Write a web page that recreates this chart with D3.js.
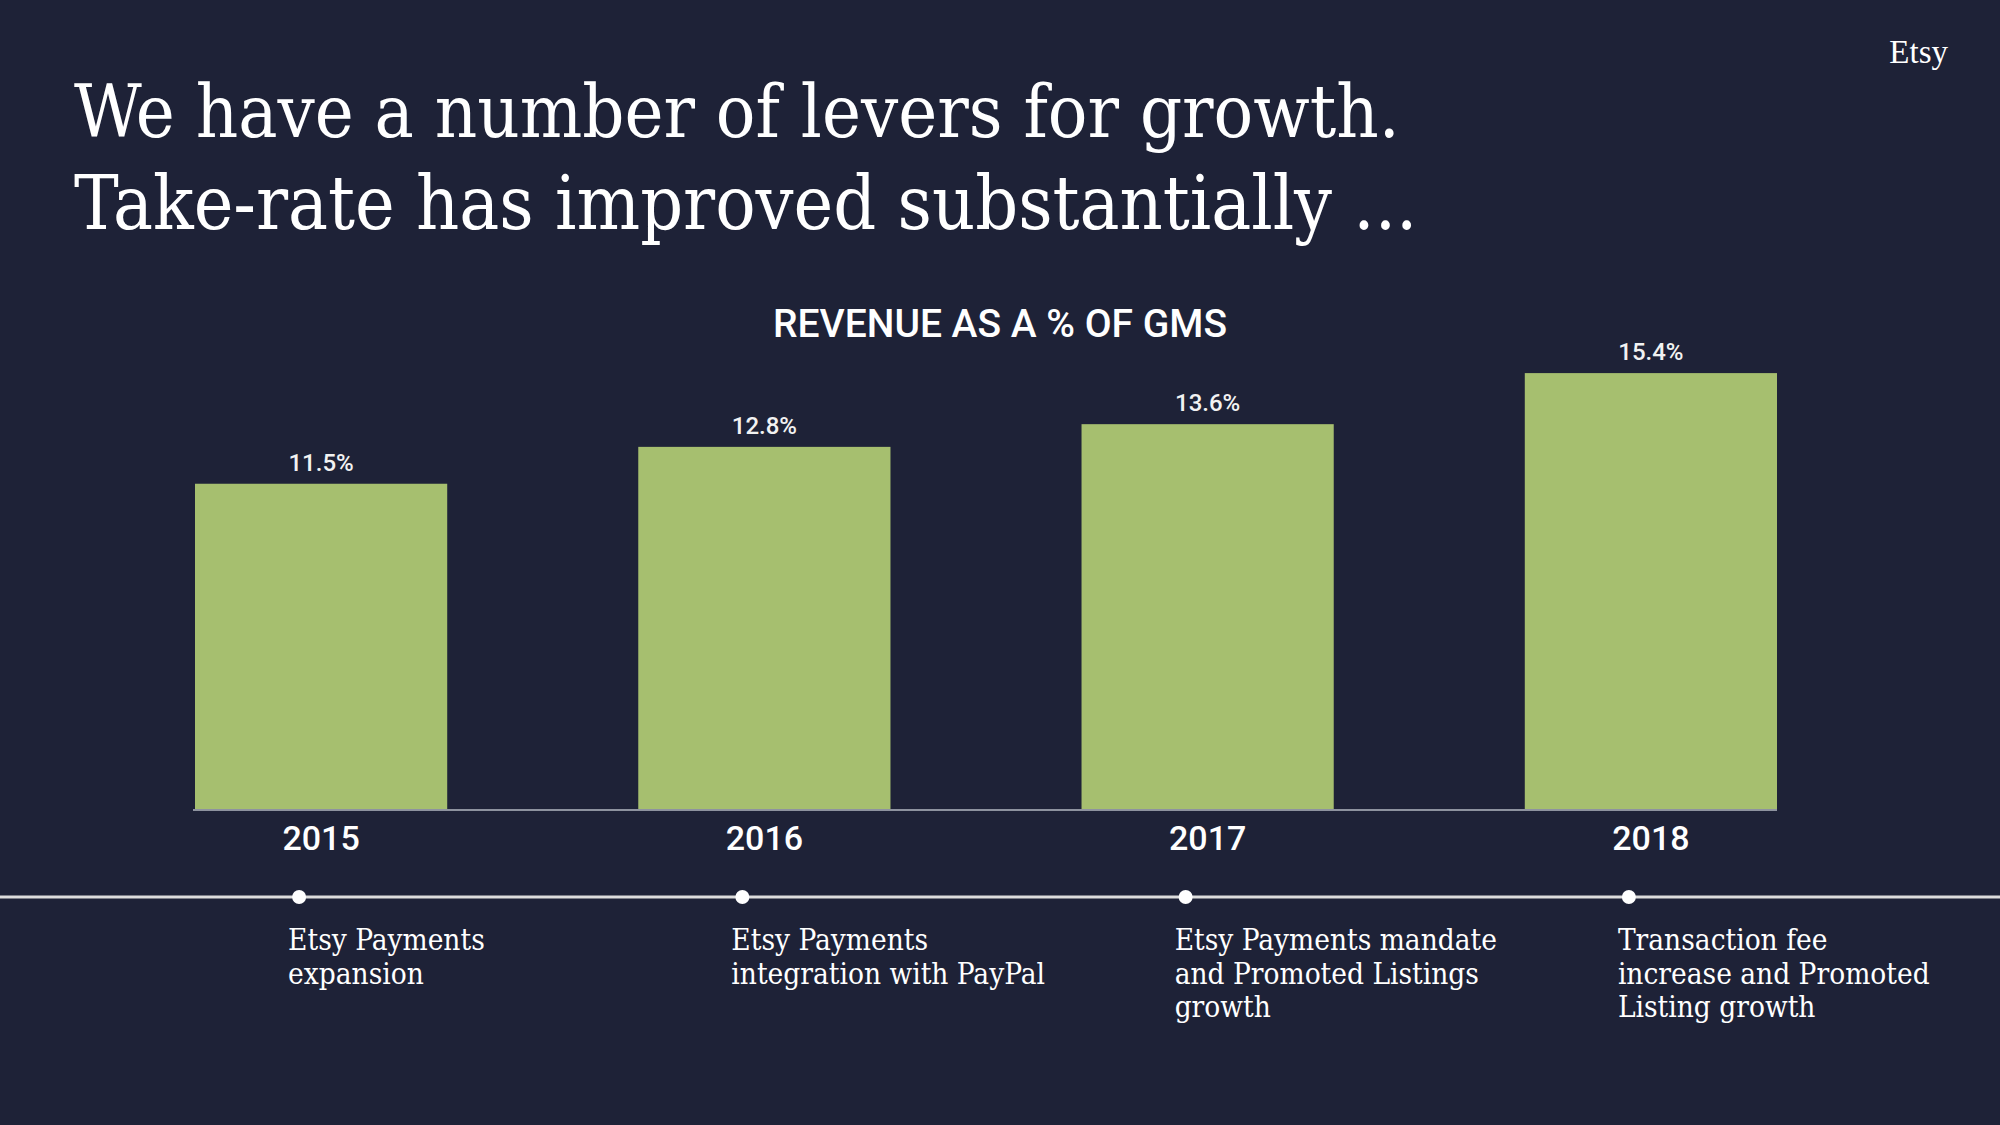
<!DOCTYPE html>
<html>
<head>
<meta charset="utf-8">
<script src="https://cdn.jsdelivr.net/npm/d3@7"></script>
<style>
  html, body { margin: 0; padding: 0; background: #1e2237; }
  svg { display: block; }
</style>
</head>
<body>
<svg id="chart" width="2000" height="1125"></svg>
<script>
const years = ["2015", "2016", "2017", "2018"];
const takeRate = [11.5, 12.8, 13.6, 15.4];
const valueLabels = ["11.5%", "12.8%", "13.6%", "15.4%"];
const notes = [
  ["Etsy Payments", "expansion"],
  ["Etsy Payments", "integration with PayPal"],
  ["Etsy Payments mandate", "and Promoted Listings", "growth"],
  ["Transaction fee", "increase and Promoted", "Listing growth"]
];
const titleLines = ["We have a number of levers for growth.", "Take-rate has improved substantially ..."];
const chartTitle = "REVENUE AS A % OF GMS";
const brand = "Etsy";

const W = 2000, H = 1125;
const BG = "#1e2237", BAR = "#a6bf6f";
const SERIF = "'DejaVu Serif Condensed', 'DejaVu Serif', serif";
const SANS = "Roboto, 'Noto Sans', sans-serif";

const svg = d3.select("#chart");
svg.append("rect").attr("width", W).attr("height", H).attr("fill", BG);

function fitSize(sel, target) {
  const w = sel.node().getComputedTextLength();
  const s = parseFloat(sel.attr("font-size"));
  sel.attr("font-size", s * target / w);
}

// Title
const t1 = svg.append("text").attr("x", 74).attr("y", 137)
  .attr("font-family", SERIF).attr("font-stretch", "condensed").attr("font-weight", 300)
  .attr("font-size", 70).attr("fill", "#ffffff").text(titleLines[0]);
fitSize(t1, 1326);
const t2 = svg.append("text").attr("x", 74).attr("y", 229)
  .attr("font-family", SERIF).attr("font-stretch", "condensed").attr("font-weight", 300)
  .attr("font-size", t1.attr("font-size")).attr("fill", "#ffffff").text(titleLines[1]);
fitSize(t2, 1343);

// Brand
svg.append("text").attr("x", 1948).attr("y", 63).attr("text-anchor", "end")
  .attr("font-family", "'Liberation Serif', serif").attr("font-size", 33)
  .attr("fill", "#ffffff").text(brand);

// Chart title
svg.append("text").attr("x", 1000).attr("y", 337).attr("text-anchor", "middle")
  .attr("font-family", SANS).attr("font-weight", 500).attr("font-size", 39)
  .attr("fill", "#ffffff").text(chartTitle);

// Scales
const x = d3.scaleBand().domain(years).range([195, 1777]).paddingInner(0.431).paddingOuter(0);
const y = d3.scaleLinear().domain([0, 16]).range([810, 810 - 16 * 28.37]);

const data = years.map((yr, i) => ({ year: yr, v: takeRate[i], label: valueLabels[i], note: notes[i] }));

// Bars
svg.append("g").selectAll("rect").data(data).join("rect")
  .attr("x", d => x(d.year)).attr("width", x.bandwidth())
  .attr("y", d => y(d.v)).attr("height", d => y(0) - y(d.v))
  .attr("fill", BAR);

// Baseline axis
const axis = svg.append("g").attr("transform", `translate(0,${y(0)})`)
  .call(d3.axisBottom(x).tickSize(0).tickPadding(16).tickSizeOuter(0));
axis.select(".domain").attr("stroke", "#8e939f").attr("stroke-width", 2)
  .attr("d", `M${x.range()[0] - 2},0H${x.range()[1]}`);
axis.selectAll(".tick text")
  .attr("font-family", SANS).attr("font-weight", 500).attr("font-size", 34)
  .attr("fill", "#ffffff").attr("dy", "0.71em");

// Value labels
svg.append("g").selectAll("text").data(data).join("text")
  .attr("x", d => x(d.year) + x.bandwidth() / 2).attr("y", d => y(d.v) - 13)
  .attr("text-anchor", "middle").attr("font-family", SANS).attr("font-weight", 500)
  .attr("font-size", 24).attr("fill", "#f2f2f2").text(d => d.label);

// Timeline
const tlY = 897;
svg.append("line").attr("x1", 0).attr("x2", W).attr("y1", tlY).attr("y2", tlY)
  .attr("stroke", "#dcdcdc").attr("stroke-width", 3);
const dotX = d => x(d.year) + x.bandwidth() / 2 - 22;
svg.append("g").selectAll("circle").data(data).join("circle")
  .attr("cx", dotX).attr("cy", tlY).attr("r", 7).attr("fill", "#ffffff");

// Notes
const noteG = svg.append("g").selectAll("text").data(data).join("text")
  .attr("x", d => dotX(d) - 11).attr("y", 950)
  .attr("font-family", SERIF).attr("font-stretch", "condensed").attr("font-weight", 300)
  .attr("font-size", 29.5).attr("fill", "#ffffff");
noteG.selectAll("tspan").data(d => d.note).join("tspan")
  .attr("x", function() { return d3.select(this.parentNode).attr("x"); })
  .attr("dy", (d, i) => i === 0 ? 0 : 33.5)
  .text(d => d);
</script>
</body>
</html>
